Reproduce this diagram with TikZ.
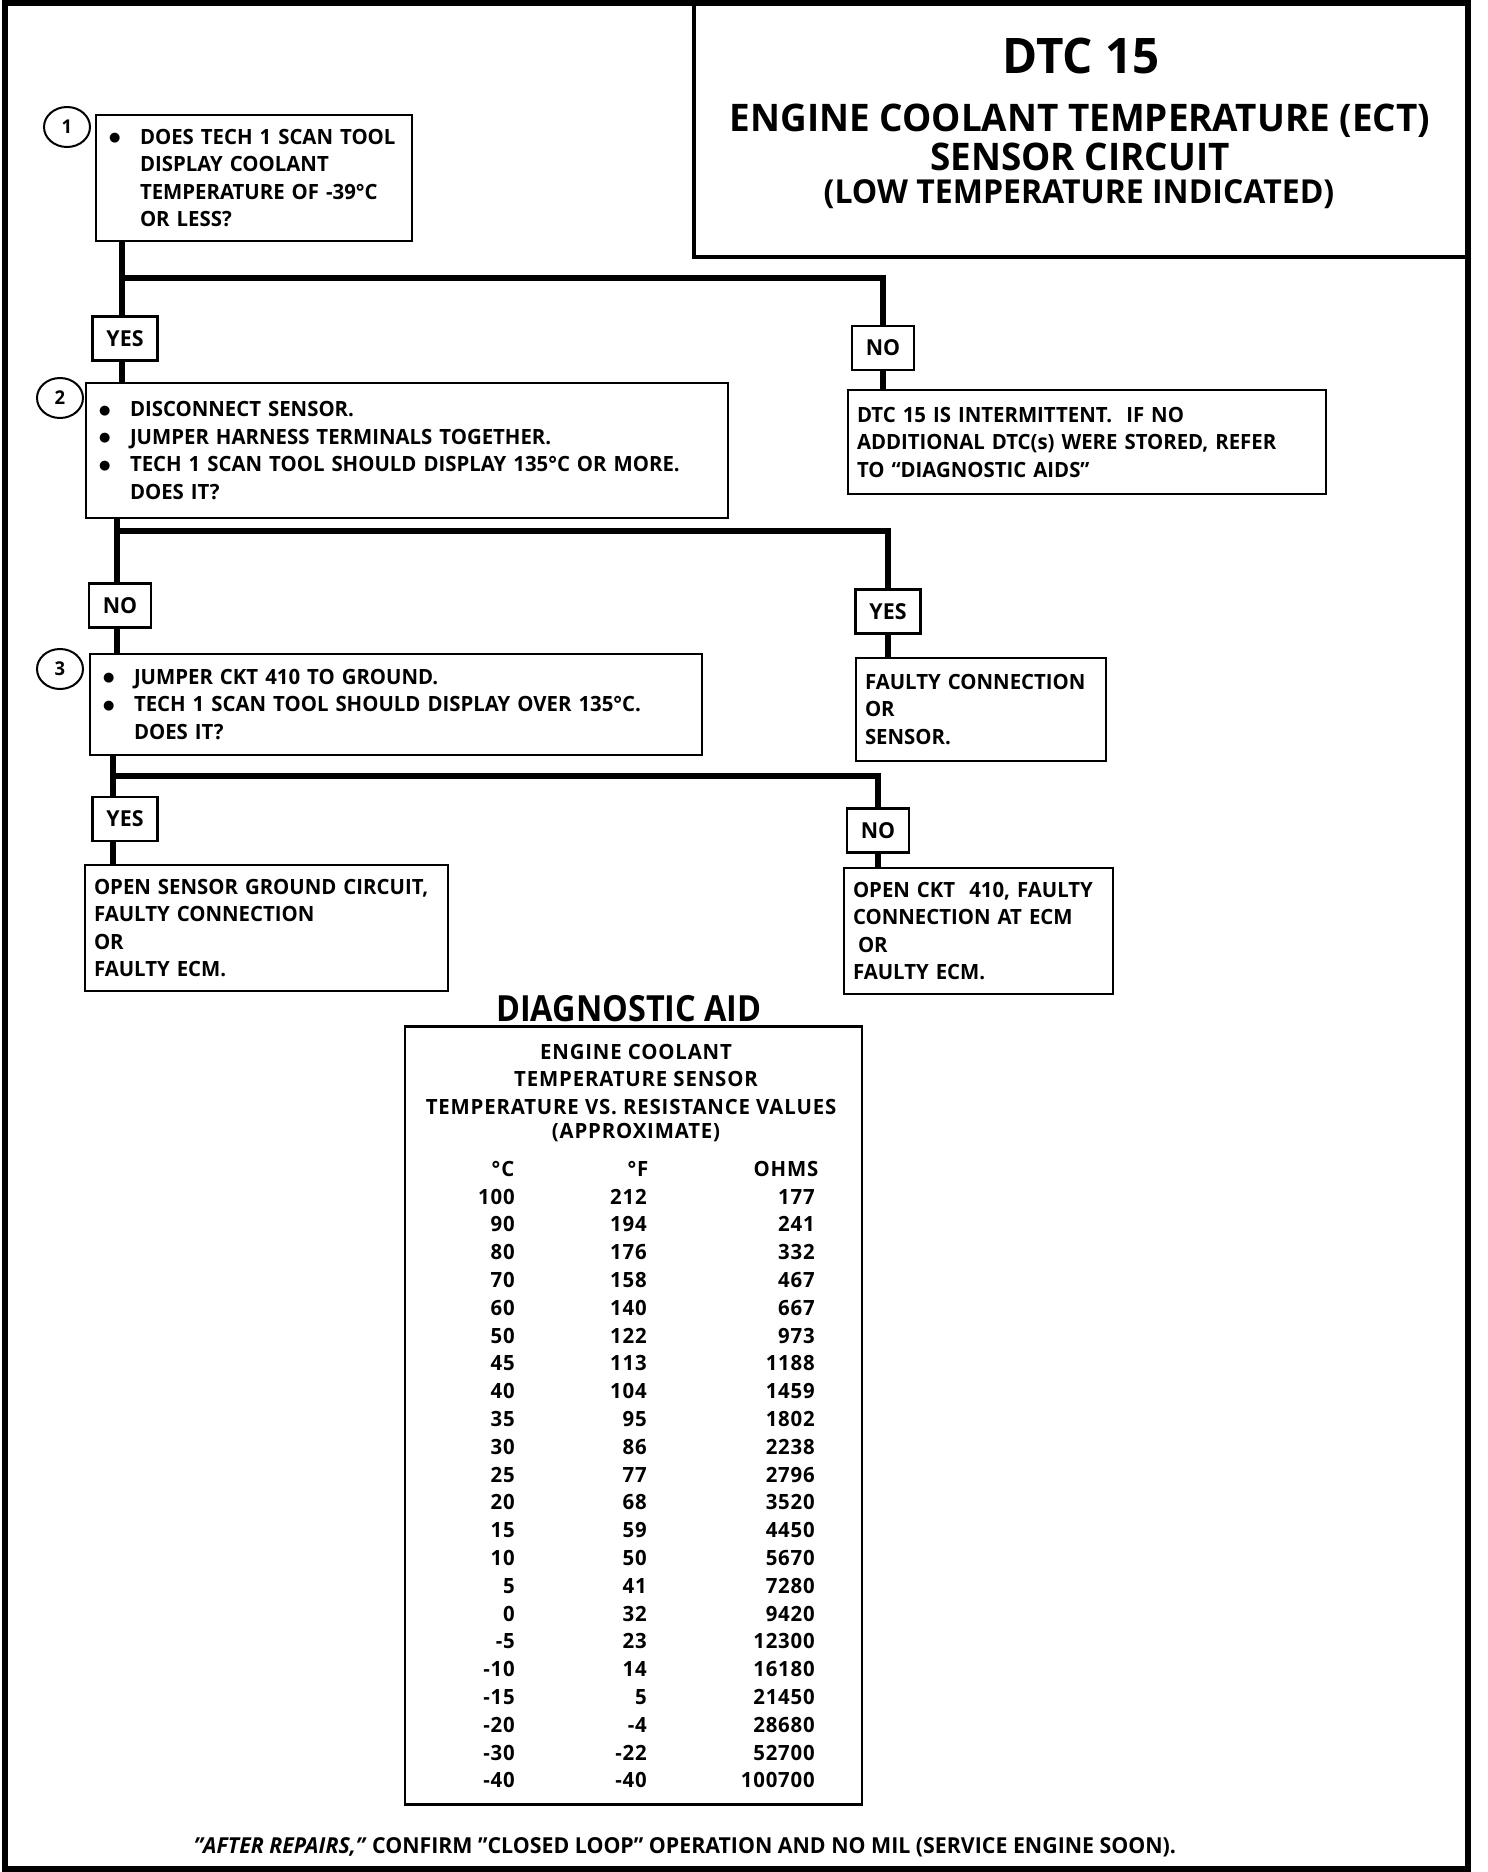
\documentclass[tikz,border=0pt]{standalone}
\usepackage{fontspec}
\setmainfont{Open Sans}[FakeStretch=0.97]
\newfontfamily\tablefont{Open Sans}[FakeStretch=0.97,LetterSpace=4]
\newfontfamily\narrowfont{Open Sans}[FakeStretch=0.9]
\newfontfamily\dotfont{DejaVu Sans}
\usetikzlibrary{shapes.geometric}

\newcommand{\bul}{\makebox[35pt][l]{\hspace{4pt}\raisebox{2.5pt}{\dotfont\fontsize{13}{0}\selectfont ●}}}
\newcommand{\ind}{\hspace*{35pt}}

\begin{document}
\begin{tikzpicture}[x=1pt, y=-1pt,
  box/.style={draw, line width=2.5pt, inner xsep=9pt, inner ysep=0pt, align=left,
    font=\bfseries\fontsize{21}{27.5}\selectfont},
  tag/.style={draw, line width=2.5pt, inner xsep=14pt, inner ysep=0pt, minimum height=44pt,
    font=\bfseries\fontsize{22}{24}\selectfont},
  num/.style={draw, ellipse, line width=2pt, minimum width=46pt, minimum height=40pt,
    inner sep=0pt, font=\bfseries\fontsize{19}{22}\selectfont},
  conn/.style={line width=6pt},
  cell/.style={anchor=base east, inner sep=0pt, font=\tablefont\bfseries\fontsize{21}{24}\selectfont},
  head/.style={anchor=base, inner sep=0pt, font=\tablefont\bfseries\fontsize{21}{24}\selectfont},
  ]
  \useasboundingbox (0,0) rectangle (1488,1872);
  \draw[line width=6pt] (5,3) rectangle (1468,1869);

  % title
  \node[draw, line width=4pt, minimum width=775pt, minimum height=253pt, inner sep=0pt] (titlebox) at (1081.5,130.5) {};
  \node[anchor=base, font=\bfseries\fontsize{49}{54}\selectfont] (dtc) at (1081,73) {DTC 15};
  \node[anchor=base, font=\bfseries\fontsize{38}{42}\selectfont] (ect) at (1080,131) {ENGINE COOLANT TEMPERATURE (ECT)};
  \node[anchor=base, font=\bfseries\fontsize{38}{42}\selectfont] (circ) at (1080,170) {SENSOR CIRCUIT};
  \node[anchor=base, font=\bfseries\fontsize{33}{38}\selectfont] (low) at (1079,203) {(LOW TEMPERATURE INDICATED)};

  % steps
  \node[num] (c1) at (67,127) {1};
  \node[box, text width=298pt, minimum height=126pt] (q1) at (254,178)
    {\bul DOES TECH 1 SCAN TOOL\\ \ind DISPLAY COOLANT\\ \ind TEMPERATURE OF -39°C\\ \ind OR LESS?};
  \node[tag] (yes1) at (125,338.5) {YES};
  \node[tag] (no1) at (883,348) {NO};
  \node[box, text width=460pt, minimum height=104pt] (r1) at (1087,442)
    {DTC 15 IS INTERMITTENT.\ \ IF NO\\ ADDITIONAL DTC(s) WERE STORED, REFER\\ TO “DIAGNOSTIC AIDS”};

  \node[num] (c2) at (60,398) {2};
  \node[box, text width=624pt, minimum height=135pt] (q2) at (407,450.5)
    {\bul DISCONNECT SENSOR.\\ \bul JUMPER HARNESS TERMINALS TOGETHER.\\ \bul TECH 1 SCAN TOOL SHOULD DISPLAY 135°C OR MORE.\\ \ind DOES IT?};
  \node[tag] (no2) at (120,605.5) {NO};
  \node[tag] (yes2) at (888,611.5) {YES};
  \node[box, text width=232pt, minimum height=103pt] (r2) at (981,709.5)
    {FAULTY CONNECTION\\ OR\\ SENSOR.};

  \node[num] (c3) at (60,669) {3};
  \node[box, text width=594pt, minimum height=101pt] (q3) at (396,704.5)
    {\bul JUMPER CKT 410 TO GROUND.\\ \bul TECH 1 SCAN TOOL SHOULD DISPLAY OVER 135°C.\\ \ind DOES IT?};
  \node[tag] (yes3) at (125,819) {YES};
  \node[tag] (no3) at (878,830.5) {NO};
  \node[box, text width=345pt, minimum height=126pt] (r4) at (266.5,928)
    {OPEN SENSOR GROUND CIRCUIT,\\ FAULTY CONNECTION\\ OR\\ FAULTY ECM.};
  \node[box, text width=251pt, minimum height=126pt] (r3) at (978.5,931)
    {OPEN CKT\ \ 410, FAULTY\\ CONNECTION AT ECM\\ \hspace*{5pt}OR\\ FAULTY ECM.};

  \coordinate (t1) at (122,278);
  \coordinate (t2) at (117,531);
  \coordinate (t3) at (113,776);

  \draw[conn] (t1 |- q1.south) -- (t1 |- yes1.north);
  \draw[conn] (t1 |- yes1.south) -- (t1 |- q2.north);
  \draw[conn] (t1) -| (no1.north);
  \draw[conn] (no1.south) -- (no1.south |- r1.north);

  \draw[conn] (t2 |- q2.south) -- (t2 |- no2.north);
  \draw[conn] (t2 |- no2.south) -- (t2 |- q3.north);
  \draw[conn] (t2) -| (yes2.north);
  \draw[conn] (yes2.south) -- (yes2.south |- r2.north);

  \draw[conn] (t3 |- q3.south) -- (t3 |- yes3.north);
  \draw[conn] (t3 |- yes3.south) -- (t3 |- r4.north);
  \draw[conn] (t3) -| (no3.north);
  \draw[conn] (no3.south) -- (no3.south |- r3.north);

  % diagnostic aid
  \node[anchor=base, font=\narrowfont\bfseries\fontsize{36}{40}\selectfont] (aidtitle) at (629,1021) {DIAGNOSTIC AID};
  \node[draw, line width=2.5pt, minimum width=457pt, minimum height=778pt, inner sep=0pt] (aid) at (633.5,1415.5) {};
  \node[head] (h1) at (636,1059) {ENGINE COOLANT};
  \node[head] (h2) at (636,1086) {TEMPERATURE SENSOR};
  \node[head] (h3) at (631,1114) {TEMPERATURE VS. RESISTANCE VALUES};
  \node[head] (h4) at (636,1138) {(APPROXIMATE)};
  \node[head] (hc) at (503,1176) {°C};
  \node[head] (hf) at (638,1176) {°F};
  \node[head] (ho) at (786,1176) {OHMS};
  \foreach \c/\f/\o [count=\i] in {100/212/177, 90/194/241, 80/176/332, 70/158/467,
      60/140/667, 50/122/973, 45/113/1188, 40/104/1459, 35/95/1802, 30/86/2238,
      25/77/2796, 20/68/3520, 15/59/4450, 10/50/5670, 5/41/7280, 0/32/9420,
      -5/23/12300, -10/14/16180, -15/5/21450, -20/-4/28680, -30/-22/52700, -40/-40/100700}{
    \node[cell] (dc\i) at (515,{1176.2+27.8*\i}) {\c};
    \node[cell] (df\i) at (647,{1176.2+27.8*\i}) {\f};
    \node[cell] (do\i) at (815,{1176.2+27.8*\i}) {\o};
  }

  \node[anchor=base, font=\bfseries\fontsize{22}{26}\selectfont] (note) at (685,1853)
    {\textit{"AFTER REPAIRS,"} CONFIRM "CLOSED LOOP" OPERATION AND NO MIL (SERVICE ENGINE SOON).};
\end{tikzpicture}
\end{document}
